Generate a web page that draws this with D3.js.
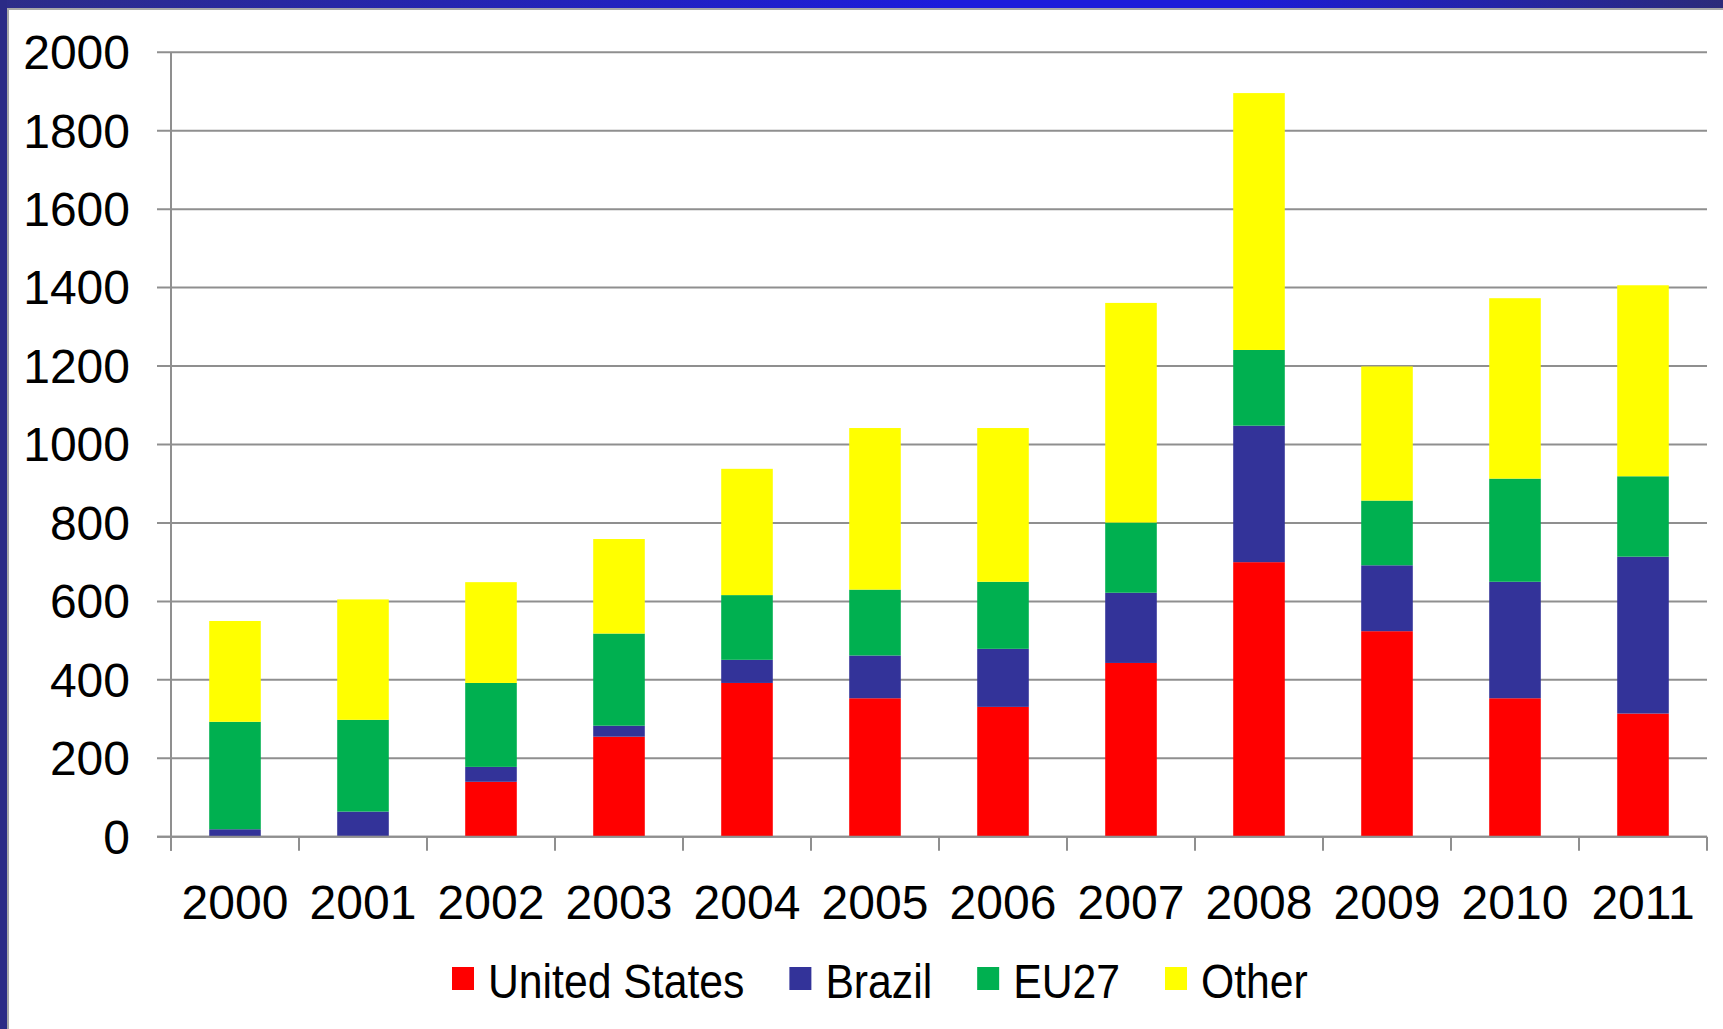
<!DOCTYPE html>
<html><head><meta charset="utf-8">
<script src="https://cdn.jsdelivr.net/npm/d3@7"></script>
<style>
html,body{margin:0;padding:0;background:#fff;overflow:hidden}
text{font-family:"Liberation Sans",Arial,sans-serif;fill:#000}
</style></head>
<body>
<svg id="c" width="1723" height="1029"></svg>
<script>
const years = ["2000","2001","2002","2003","2004","2005","2006","2007","2008","2009","2010","2011"];
const seriesNames = ["United States","Brazil","EU27","Other"];
const seriesColors = ["#FF0000","#333399","#00B050","#FFFF00"];
const unitedStates = [0, 2, 140, 255, 392, 353, 331, 443, 700, 524, 353, 314];
const brazil       = [19, 62, 38, 28, 59, 109, 148, 179, 348, 168, 297, 400];
const eu27         = [274, 234, 214, 235, 165, 168, 171, 179, 193, 165, 263, 205];
const other        = [257, 307, 257, 241, 322, 412, 392, 560, 655, 342, 460, 487];
const yTicks = [0,200,400,600,800,1000,1200,1400,1600,1800,2000];

const svg = d3.select("#c");
const W = 1723, H = 1029;

// frame
const defs = svg.append("defs");
const g = defs.append("linearGradient").attr("id","topbar").attr("x1","0").attr("x2","1").attr("y1","0").attr("y2","0");
g.append("stop").attr("offset","0%").attr("stop-color","#2d2d88");
g.append("stop").attr("offset","55%").attr("stop-color","#1c1cdc");
g.append("stop").attr("offset","72%").attr("stop-color","#1c1cd8");
g.append("stop").attr("offset","100%").attr("stop-color","#2b2b7a");
svg.append("rect").attr("x",0).attr("y",0).attr("width",W).attr("height",8).attr("fill","url(#topbar)");
svg.append("rect").attr("x",0).attr("y",0).attr("width",7).attr("height",H).attr("fill","#2b2b86");
svg.append("line").attr("x1",7).attr("x2",W).attr("y1",9).attr("y2",9).attr("stroke","#a8a8a8").attr("stroke-width",2);
svg.append("line").attr("x1",8).attr("x2",8).attr("y1",8).attr("y2",H).attr("stroke","#a8a8a8").attr("stroke-width",2);

const x0 = 171, x1 = 1707, yBase = 836.7, yTop = 52.3;
const x = d3.scaleBand().domain(years).range([x0, x1]).paddingInner(0.597).paddingOuter(0.2985);
const y = d3.scaleLinear().domain([0,2000]).range([yBase, yTop]);

// gridlines
svg.append("g").selectAll("line").data(yTicks).join("line")
  .attr("x1", x0-14).attr("x2", x1)
  .attr("y1", d=>y(d)).attr("y2", d=>y(d))
  .attr("stroke","#8f8f8f").attr("stroke-width",2);

// y labels
svg.append("g").selectAll("text").data(yTicks).join("text")
  .attr("x", 130).attr("y", d=>y(d)).attr("dy","0.35em")
  .attr("text-anchor","end").style("font-size","48px").text(d=>d);

// stacked bars
const rows = years.map((yr,i)=>({year:yr, us:unitedStates[i], br:brazil[i], eu:eu27[i], ot:other[i]}));
const stack = d3.stack().keys(["us","br","eu","ot"])(rows);
svg.append("g").selectAll("g").data(stack).join("g")
  .attr("fill",(d,i)=>seriesColors[i])
  .selectAll("rect").data(d=>d).join("rect")
  .attr("x", d=>x(d.data.year)).attr("width", x.bandwidth())
  .attr("y", d=>y(d[1])).attr("height", d=>y(d[0])-y(d[1]));

// axes lines
svg.append("line").attr("x1",x0).attr("x2",x0).attr("y1",yTop).attr("y2",yBase+14)
  .attr("stroke","#8f8f8f").attr("stroke-width",2);
svg.append("line").attr("x1",x0-14).attr("x2",x1).attr("y1",yBase).attr("y2",yBase)
  .attr("stroke","#8f8f8f").attr("stroke-width",2);
const step = x.step();
svg.append("g").selectAll("line").data(d3.range(years.length+1)).join("line")
  .attr("x1", i=>x0+i*step).attr("x2", i=>x0+i*step)
  .attr("y1", yBase).attr("y2", yBase+14)
  .attr("stroke","#8f8f8f").attr("stroke-width",2);

// x labels
svg.append("g").selectAll("text").data(years).join("text")
  .attr("x", d=>x(d)+x.bandwidth()/2).attr("y", 919)
  .attr("text-anchor","middle").style("font-size","48px").text(d=>d);

// legend
const lg = svg.append("g");
let cx = 452;
const sx = 0.89;
seriesNames.forEach((name,i)=>{
  lg.append("rect").attr("x",cx).attr("y",967).attr("width",22).attr("height",23).attr("fill",seriesColors[i]);
  const tx = cx + 36;
  const t = lg.append("text").attr("transform",`translate(${tx},998) scale(${sx},1)`)
    .style("font-size","48px").text(name);
  const w = t.node().getComputedTextLength()*sx;
  cx = tx + w + 45;
});
</script>
</body></html>
